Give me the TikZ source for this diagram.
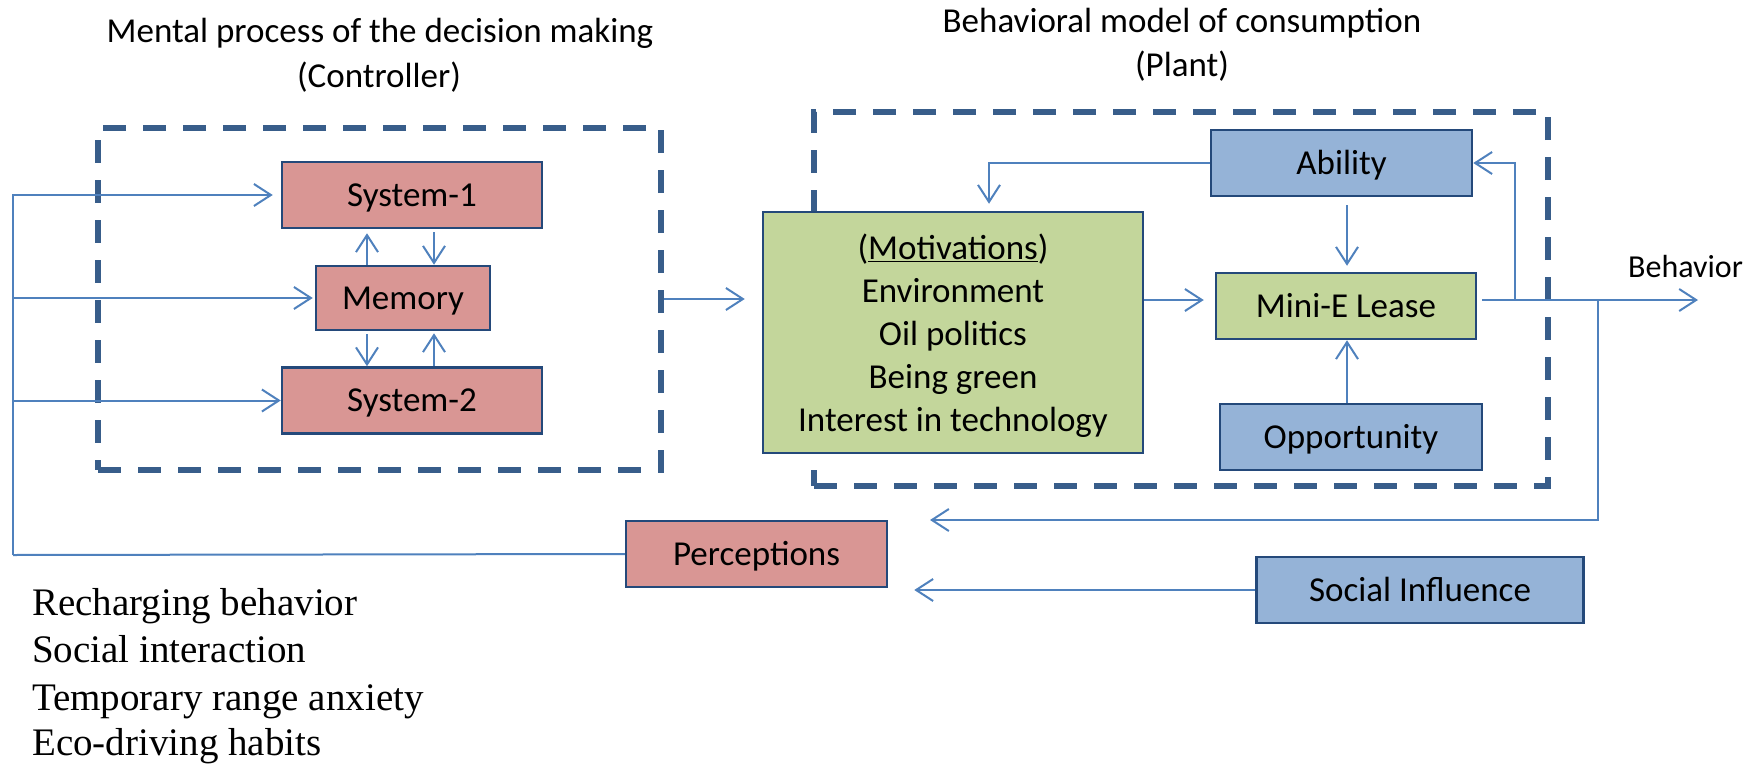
\documentclass[tikz,border=0pt]{standalone}
\usepackage{fontspec}
\setmainfont{Carlito}
\newfontfamily\tnr{Liberation Serif}
\usetikzlibrary{arrows.meta,calc}
\definecolor{pinkf}{HTML}{D99694}
\definecolor{bluef}{HTML}{95B3D7}
\definecolor{greenf}{HTML}{C3D69B}
\definecolor{bord}{HTML}{24497A}
\definecolor{connc}{HTML}{4F81BD}
\definecolor{dashc}{HTML}{385D8A}
\begin{document}
\begin{tikzpicture}[x=1pt,y=-1pt,
  box/.style={draw=bord, line width=2.5pt, inner sep=0pt, minimum height=66pt,
    font=\fontsize{35}{43}\selectfont, text height=28pt, text depth=6pt},
  pinkbox/.style={box, fill=pinkf},
  bluebox/.style={box, fill=bluef},
  greenbox/.style={box, fill=greenf},
  conn/.style={draw=connc, line width=2pt},
  arr/.style={conn, -{Straight Barb[length=17pt,width=22pt]}},
  dbox/.style={draw=dashc, line width=5.5pt, dash pattern=on 23pt off 17pt, inner sep=0pt},
  ttl/.style={font=\fontsize{35}{43}\selectfont, anchor=base, inner sep=0pt},
  lst/.style={font=\tnr\fontsize{39}{47}\selectfont, anchor=base west, inner sep=0pt}]
\useasboundingbox (0,0) rectangle (1760,765);

% dashed frames
\node[dbox, minimum width=563pt, minimum height=342pt] (ctrl) at (379.5,299) {};
\node[dbox, minimum width=734pt, minimum height=374pt] (plant) at (1181,299) {};

% titles
\node[ttl] (t1) at (380,43) {Mental process of the decision making};
\node[ttl] (t2) at (379,88) {(Controller)};
\node[ttl] (t3) at (1182,33) {Behavioral model of consumption};
\node[ttl] (t4) at (1182,77) {(Plant)};

% boxes
\node[pinkbox, minimum width=260pt] (s1) at (412,195) {System-1};
\node[pinkbox, minimum width=174pt, minimum height=64pt] (mem) at (403,298) {Memory};
\node[pinkbox, minimum width=260pt] (s2) at (412,400.5) {System-2};
\node[greenbox, minimum width=380pt, minimum height=241pt] (mot) at (953,332.5) {};
\node[font=\fontsize{35}{43}\selectfont, align=center, inner sep=0pt] (motT) at (953,336)
  {(\underline{Motivations})\\Environment\\Oil politics\\Being green\\Interest in technology};
\node[bluebox, minimum width=261pt] (abil) at (1341.5,163) {Ability};
\node[greenbox, minimum width=260pt] (mini) at (1346,306) {Mini-E Lease};
\node[bluebox, minimum width=262pt] (opp) at (1351,437) {Opportunity};
\node[pinkbox, minimum width=261pt] (perc) at (756.5,554) {Perceptions};
\node[bluebox, minimum width=327pt] (soc) at (1420,590) {Social Influence};

% helper coordinates
\coordinate (fbL) at (13,555);
\coordinate (cA) at (367,0);
\coordinate (cB) at (434,0);
\coordinate (cM) at (989,0);
\coordinate (cV) at (1347,0);
\coordinate (yb) at (0,300);
\coordinate (j1) at (1515,300);
\coordinate (j2) at (1598,300);
\coordinate (beh) at (1698,300);
\coordinate (fbT) at (930,520);

% connectors
\draw[conn] (perc.west) -- (fbL);
\draw[arr, shorten >=8pt] (fbL) |- (s1.west);
\draw[arr, shorten >=2pt] (fbL) |- (mem.west);
\draw[arr] (fbL) |- (s2.west);

\draw[arr, shorten >=4pt] (mem.north -| cA) -- (s1.south -| cA);
\draw[arr, shorten <=3pt] (s1.south -| cB) -- (mem.north -| cB);
\draw[arr, shorten <=3pt] (mem.south -| cA) -- (s2.north -| cA);
\draw[arr, shorten >=2pt] (s2.north -| cB) -- (mem.south -| cB);

\draw[arr, shorten >=17pt] (ctrl.east) -- (ctrl.east -| mot.west);
\draw[arr, shorten >=11pt] (mot.east |- yb) -- (mini.west |- yb);
\draw[arr, shorten >=7pt] (abil.west) -| (mot.north -| cM);
\draw[arr, shorten <=8pt, shorten >=6pt] (abil.south -| cV) -- (mini.north -| cV);
\draw[arr] (opp.north -| cV) -- (mini.south -| cV);

\draw[arr, shorten <=5pt] (mini.east |- yb) -- (beh);
\node[font=\fontsize{32}{38}\selectfont, anchor=base west, inner sep=0pt] (behl) at (1628,277) {Behavior};
\draw[arr] (j1) |- (abil.east);
\draw[arr] (j2) |- (fbT);
\draw[arr, shorten >=26pt] (soc.west) -- (perc.east |- soc.west);

% list
\node[lst] (l1) at (32,615) {Recharging behavior};
\node[lst] (l2) at (32,662) {Social interaction};
\node[lst] (l3) at (32,710) {Temporary range anxiety};
\node[lst] (l4) at (32,755) {Eco-driving habits};
\end{tikzpicture}
\end{document}
